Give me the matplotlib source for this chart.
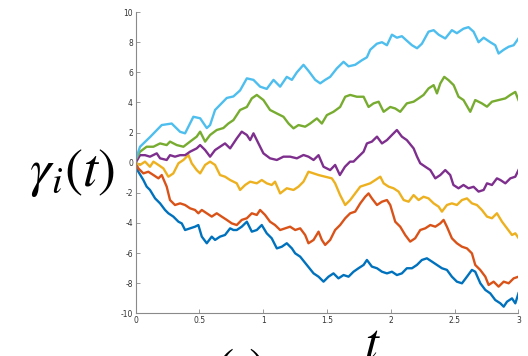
import matplotlib
matplotlib.use("Agg")
import matplotlib.pyplot as plt

plt.rcParams['mathtext.fontset'] = 'stix'

# ---- data (t, value) ----
cyan_t = [0, 0.034, 0.112, 0.204, 0.282, 0.348, 0.387, 0.452, 0.505, 0.557, 0.583, 0.622, 0.714, 0.766,
          0.818, 0.871, 0.923, 0.975, 1.027, 1.08, 1.132, 1.184, 1.224, 1.263, 1.315, 1.354, 1.407, 1.446,
          1.485, 1.524, 1.576, 1.629, 1.668, 1.72, 1.772, 1.812, 1.838, 1.89, 1.93, 1.969, 2.008, 2.047,
          2.086, 2.125, 2.165, 2.205, 2.243, 2.295, 2.335, 2.374, 2.426, 2.478, 2.517, 2.569, 2.608, 2.648,
          2.687, 2.727, 2.779, 2.818, 2.844, 2.884, 2.923, 2.962, 3.0]
cyan_v = [0.2, 1.06, 1.7, 2.5, 2.6, 2.05, 1.95, 3.05, 2.95, 2.3, 2.5, 3.5, 4.3, 4.4,
          4.8, 5.6, 5.5, 5.05, 4.9, 5.5, 5.05, 5.7, 5.5, 6.0, 6.5, 6.1, 5.5, 5.27,
          5.5, 5.7, 6.26, 6.7, 6.4, 6.5, 6.8, 7.0, 7.5, 7.9, 8.0, 7.8, 8.5, 8.3,
          8.4, 8.1, 7.8, 7.6, 7.9, 8.7, 8.8, 8.5, 8.25, 8.8, 8.6, 8.9, 9.0, 8.7,
          8.0, 8.3, 8.0, 7.8, 7.25, 7.5, 7.7, 7.8, 8.25]

green_t = [0, 0.034, 0.086, 0.139, 0.191, 0.243, 0.269, 0.322, 0.374, 0.426, 0.478, 0.505, 0.544, 0.583,
           0.635, 0.687, 0.726, 0.766, 0.818, 0.871, 0.91, 0.949, 1.001, 1.053, 1.106, 1.158, 1.198, 1.237,
           1.276, 1.328, 1.367, 1.42, 1.459, 1.498, 1.55, 1.602, 1.642, 1.681, 1.733, 1.786, 1.825, 1.864,
           1.904, 1.943, 1.995, 2.034, 2.073, 2.125, 2.178, 2.217, 2.256, 2.295, 2.335, 2.361, 2.387, 2.418,
           2.452, 2.492, 2.53, 2.569, 2.622, 2.661, 2.713, 2.753, 2.792, 2.844, 2.897, 2.936, 2.975, 3.0]
green_v = [0.2, 0.73, 1.06, 1.06, 1.28, 1.17, 1.4, 1.17, 1.06, 1.4, 1.73, 2.06, 1.4, 1.84,
           2.17, 2.3, 2.6, 2.83, 3.5, 3.7, 4.27, 4.5, 4.16, 3.5, 3.27, 3.05, 2.6, 2.28,
           2.5, 2.39, 2.6, 2.94, 2.6, 3.16, 3.38, 3.7, 4.38, 4.5, 4.38, 4.38, 3.7, 3.94,
           4.05, 3.38, 3.7, 3.6, 3.38, 3.94, 4.05, 4.27, 4.5, 4.93, 5.15, 4.6, 5.26, 5.7,
           5.48, 5.15, 4.38, 4.16, 3.38, 4.16, 3.94, 3.72, 4.05, 4.16, 4.27, 4.5, 4.7, 4.16]

purple_t = [0, 0.034, 0.073, 0.112, 0.165, 0.191, 0.243, 0.269, 0.308, 0.348, 0.387, 0.426, 0.478, 0.505,
            0.544, 0.583, 0.622, 0.661, 0.7, 0.74, 0.792, 0.831, 0.871, 0.897, 0.923, 0.962, 1.001, 1.053,
            1.106, 1.158, 1.21, 1.263, 1.315, 1.354, 1.394, 1.433, 1.472, 1.524, 1.563, 1.6, 1.64, 1.68,
            1.707, 1.746, 1.786, 1.812, 1.851, 1.891, 1.93, 1.969, 2.008, 2.047, 2.086, 2.125, 2.178, 2.205,
            2.23, 2.27, 2.309, 2.348, 2.387, 2.426, 2.465, 2.49, 2.53, 2.569, 2.608, 2.648, 2.687, 2.727,
            2.753, 2.792, 2.831, 2.858, 2.897, 2.936, 2.975, 3.0]
purple_v = [0.0, 0.5, 0.5, 0.4, 0.62, 0.29, 0.18, 0.5, 0.4, 0.5, 0.5, 0.73, 0.95, 1.17,
            0.84, 0.4, 0.84, 1.06, 1.28, 0.95, 1.61, 2.06, 1.84, 1.5, 1.95, 1.28, 0.62, 0.29,
            0.18, 0.4, 0.4, 0.29, 0.51, 0.4, 0.18, 0.5, -0.27, -0.49, -0.15, -0.82, -0.27, 0.07,
            0.07, 0.4, 0.73, 1.28, 1.4, 1.73, 1.28, 1.5, 1.84, 2.17, 1.73, 1.5, 0.95, 0.4,
            -0.04, -0.27, -0.49, -1.04, -0.82, -0.49, -0.82, -1.48, -1.7, -1.48, -1.7, -1.6, -1.92, -1.81,
            -1.37, -1.48, -1.04, -1.15, -1.37, -1.04, -0.93, -0.49]

yellow_t = [0, 0.034, 0.073, 0.112, 0.139, 0.178, 0.217, 0.256, 0.295, 0.335, 0.374, 0.413, 0.439, 0.478,
            0.505, 0.544, 0.583, 0.622, 0.661, 0.7, 0.74, 0.792, 0.818, 0.858, 0.897, 0.949, 0.988, 1.027,
            1.066, 1.092, 1.132, 1.184, 1.237, 1.276, 1.315, 1.354, 1.394, 1.433, 1.485, 1.537, 1.563, 1.602,
            1.642, 1.681, 1.72, 1.76, 1.799, 1.838, 1.878, 1.917, 1.943, 1.982, 2.021, 2.06, 2.1, 2.139,
            2.178, 2.217, 2.256, 2.295, 2.335, 2.374, 2.4, 2.439, 2.478, 2.517, 2.557, 2.596, 2.635, 2.674,
            2.713, 2.753, 2.792, 2.831, 2.871, 2.91, 2.949, 2.975, 3.0]
yellow_v = [0.0, -0.15, 0.07, -0.27, 0.07, -0.15, -0.38, -0.93, -0.71, -0.04, 0.18, 0.51, -0.04, -0.49,
            -0.71, -0.15, 0.07, -0.15, -0.82, -0.93, -1.15, -1.37, -1.81, -1.48, -1.26, -1.37, -1.15, -1.37,
            -1.48, -1.26, -2.04, -1.7, -1.81, -1.59, -1.26, -0.6, -0.71, -0.82, -0.93, -1.04, -1.37, -2.15,
            -2.81, -2.48, -2.04, -1.59, -1.48, -1.37, -1.15, -0.93, -1.37, -1.59, -1.7, -1.92, -2.48, -2.59,
            -2.15, -2.48, -2.26, -2.37, -2.7, -2.92, -3.25, -2.81, -2.7, -2.81, -2.48, -2.37, -2.7, -2.81,
            -3.14, -3.58, -3.69, -3.36, -3.92, -4.36, -4.8, -4.69, -5.0]

orange_t = [0, 0.021, 0.06, 0.099, 0.139, 0.178, 0.204, 0.243, 0.269, 0.308, 0.348, 0.387, 0.426, 0.465,
            0.491, 0.518, 0.557, 0.596, 0.635, 0.674, 0.714, 0.753, 0.792, 0.831, 0.871, 0.91, 0.949, 0.975,
            1.014, 1.053, 1.092, 1.132, 1.171, 1.21, 1.25, 1.289, 1.328, 1.354, 1.394, 1.433, 1.459, 1.485,
            1.524, 1.563, 1.602, 1.642, 1.681, 1.72, 1.76, 1.799, 1.825, 1.851, 1.891, 1.93, 1.969, 1.995,
            2.034, 2.073, 2.112, 2.151, 2.19, 2.23, 2.269, 2.309, 2.348, 2.387, 2.413, 2.439, 2.478, 2.517,
            2.557, 2.596, 2.635, 2.661, 2.7, 2.74, 2.766, 2.805, 2.844, 2.884, 2.923, 2.962, 3.0]
orange_v = [0.0, -0.38, -0.71, -0.6, -0.82, -1.04, -0.82, -1.59, -2.48, -2.81, -2.7, -2.81, -3.03, -3.14,
            -3.36, -3.14, -3.36, -3.58, -3.36, -3.58, -3.8, -4.03, -4.14, -3.8, -3.69, -3.36, -3.47, -3.14,
            -3.47, -3.92, -4.14, -4.47, -4.36, -4.25, -4.47, -4.36, -4.8, -5.35, -5.13, -4.58, -5.13, -5.46,
            -5.13, -4.47, -4.14, -3.69, -3.36, -3.25, -2.7, -2.26, -2.04, -2.37, -2.81, -2.59, -2.48, -2.81,
            -3.92, -4.25, -4.8, -5.24, -5.02, -4.47, -4.36, -4.14, -4.25, -4.03, -3.8, -4.25, -5.02, -5.35,
            -5.58, -5.69, -6.02, -6.79, -7.12, -7.57, -8.12, -7.9, -8.23, -7.9, -8.01, -7.68, -7.57]

blue_t = [0, 0.021, 0.06, 0.086, 0.112, 0.152, 0.191, 0.23, 0.256, 0.295, 0.335, 0.361, 0.387, 0.426,
          0.465, 0.491, 0.518, 0.557, 0.596, 0.622, 0.661, 0.7, 0.74, 0.766, 0.792, 0.831, 0.871, 0.91,
          0.949, 0.988, 1.027, 1.066, 1.106, 1.145, 1.184, 1.224, 1.25, 1.289, 1.341, 1.394, 1.433, 1.472,
          1.511, 1.55, 1.589, 1.629, 1.668, 1.707, 1.746, 1.786, 1.812, 1.851, 1.891, 1.93, 1.969, 2.008,
          2.047, 2.086, 2.125, 2.165, 2.204, 2.243, 2.282, 2.322, 2.361, 2.4, 2.439, 2.478, 2.517, 2.557,
          2.596, 2.635, 2.661, 2.701, 2.74, 2.779, 2.818, 2.858, 2.884, 2.91, 2.949, 2.975, 3.0]
blue_v = [-0.27, -0.6, -1.15, -1.59, -1.81, -2.37, -2.7, -3.14, -3.36, -3.58, -3.92, -4.03, -4.47, -4.36,
          -4.25, -4.14, -4.91, -5.35, -4.91, -5.13, -4.91, -4.8, -4.36, -4.47, -4.47, -4.25, -3.92, -4.58,
          -4.47, -4.14, -4.69, -5.02, -5.69, -5.58, -5.35, -5.69, -6.02, -6.24, -6.79, -7.35, -7.57, -7.9,
          -7.57, -7.35, -7.68, -7.46, -7.57, -7.24, -7.01, -6.79, -6.46, -6.9, -7.01, -7.24, -7.35, -7.24,
          -7.46, -7.35, -7.01, -7.01, -6.79, -6.46, -6.35, -6.57, -6.79, -7.01, -7.12, -7.57, -7.9, -8.01,
          -7.57, -7.12, -7.24, -8.01, -8.45, -8.68, -9.12, -9.34, -9.56, -9.23, -9.01, -9.34, -8.67]

series = [
    (blue_t, blue_v, '#0072BD'),
    (orange_t, orange_v, '#D95319'),
    (yellow_t, yellow_v, '#EDB120'),
    (purple_t, purple_v, '#7E2F8E'),
    (green_t, green_v, '#77AC30'),
    (cyan_t, cyan_v, '#4DBEEE'),
]

x_ticks = [0, 0.5, 1, 1.5, 2, 2.5, 3]
x_ticklabels = ['0', '0.5', '1', '1.5', '2', '2.5', '3']
y_ticks = [-10, -8, -6, -4, -2, 0, 2, 4, 6, 8, 10]
y_ticklabels = ['-10', '-8', '-6', '-4', '-2', '0', '2', '4', '6', '8', '10']

fig = plt.figure(figsize=(5.28, 3.56), dpi=100)
ax = fig.add_axes([0.257, 0.120, 0.725, 0.846])

for t, v, c in series:
    ax.plot(t, v, color=c, lw=1.7, solid_joinstyle='round')

ax.set_xlim(0, 3)
ax.set_ylim(-10, 10)
ax.set_xticks(x_ticks)
ax.set_xticklabels(x_ticklabels)
ax.set_yticks(y_ticks)
ax.set_yticklabels(y_ticklabels)
for s in ['top', 'right']:
    ax.spines[s].set_visible(False)
for s in ['left', 'bottom']:
    ax.spines[s].set_color('#8a8a8a')
    ax.spines[s].set_linewidth(0.8)
ax.tick_params(direction='in', length=3, width=0.6, color='#8a8a8a',
               labelsize=5.5, labelcolor='#333333', pad=2)

fig.text(0.136, 0.515, r'$\gamma_i(t)$', fontsize=39, ha='center', va='center', color='black')
fig.text(0.705, 0.035, r'$t$', fontsize=36, ha='center', va='center', color='black')
fig.text(0.457, -0.045, r'$(t)$', fontsize=40, ha='center', va='center', color='black')

fig.savefig('out.png', dpi=100)
